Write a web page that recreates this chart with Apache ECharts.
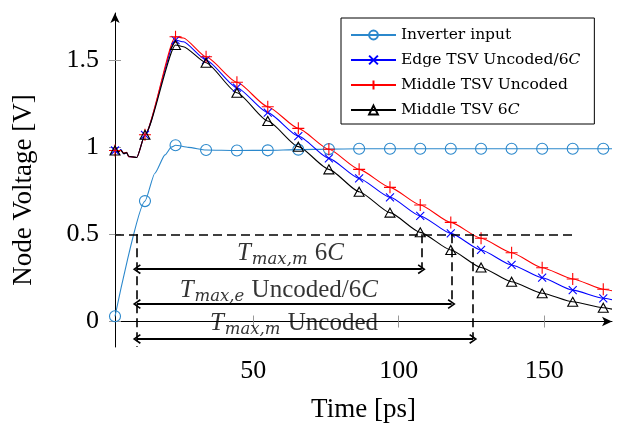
<!DOCTYPE html>
<html lang="en">
<head>
<meta charset="UTF-8">
<title>Node Voltage</title>
<script src="https://cdn.jsdelivr.net/npm/echarts@6/dist/echarts.min.js"></script>
<style>
    html, body { margin: 0; padding: 0; background: #fff; }
    #main { width: 619px; height: 423px; }
</style>
</head>
<body>
<div id="main"></div>
<script>
    // times (ps) where the markers sit
    var markT = [2.5, 12.8, 23.3, 33.8, 44.4, 55.0, 65.5, 76.0, 86.4, 97.0, 107.4, 117.9, 128.3, 138.8, 149.3, 159.8, 170.3];
    var inverterV = [0.03, 0.69, 1.01, 0.983, 0.98, 0.981, 0.985, 0.988, 0.99, 0.99, 0.99, 0.99, 0.99, 0.99, 0.99, 0.99, 0.99];
    var edgeV     = [0.98, 1.07, 1.613, 1.499, 1.340, 1.197, 1.063, 0.935, 0.820, 0.712, 0.605, 0.505, 0.410, 0.324, 0.251, 0.180, 0.133];
    var midUncV   = [0.98, 1.07, 1.632, 1.517, 1.371, 1.231, 1.107, 0.987, 0.872, 0.769, 0.668, 0.568, 0.477, 0.394, 0.308, 0.244, 0.185];
    var mid6cV    = [0.98, 1.07, 1.585, 1.483, 1.311, 1.149, 1.002, 0.872, 0.744, 0.624, 0.511, 0.410, 0.310, 0.228, 0.162, 0.113, 0.079];

    // curve points between markers (no marker drawn)
    var inverterExtraT = [16.2, 19.7, 21.9, 27.7, 173.3];
    var inverterExtraV = [0.85, 0.955, 1.0, 0.998, 0.99];
    var tsvExtraT    = [3.5, 4.5, 5.5, 6.5, 7.2, 10.0, 26.0, 173.3];
    var edgeExtraV   = [0.972, 0.985, 0.962, 0.968, 0.945, 0.94, 1.603, 0.125];
    var midUncExtraV = [0.975, 0.980, 0.965, 0.970, 0.945, 0.94, 1.625, 0.176];
    var mid6cExtraV  = [0.972, 0.982, 0.962, 0.968, 0.947, 0.94, 1.575, 0.071];

    var xTicks = [50, 100, 150];
    var yTicks = [0, 0.5, 1, 1.5];

    // 0.5 V crossing annotation
    var threshold = 0.5;
    var crossT = [10, 107.9, 118.2, 125.6];
    var arrowV = [0.3, 0.1, -0.1];
    var dashEndT = 160;
    var annoLabels = ['{i|T}{s|max,m} 6{i|C}', '{i|T}{s|max,e} Uncoded/6{i|C}', '{i|T}{s|max,m} Uncoded'];
    var annoT = [62.8, 58.8, 64.0];
    var annoV = [0.39, 0.18, -0.01];

    var names = ['Inverter input', 'Edge TSV Uncoded/6C', 'Middle TSV Uncoded', 'Middle TSV 6C'];

    var xMin = 2.5, xMax = 173.3, yMin = -0.146, yMax = 1.768;
    var serif = 'Liberation Serif';
    var chevron = 'path://M5,0L10,8.5L8.6,9.6L5,3.2L1.4,9.6L0,8.5Z';

    function buildData(mt, mv, et, ev) {
        var pts = [];
        for (var i = 0; i < mt.length; i++) pts.push({value: [mt[i], mv[i]]});
        for (var j = 0; j < et.length; j++) pts.push({value: [et[j], ev[j]], symbol: 'none'});
        pts.sort(function (a, b) { return a.value[0] - b.value[0]; });
        return pts;
    }

    function curve(name, color, data, symbol, size) {
        return {
            name: name,
            type: 'line',
            color: color,
            data: data,
            symbol: symbol,
            symbolSize: size,
            smooth: 0.2,
            smoothMonotone: 'x',
            lineStyle: {color: color, width: 1.1},
            itemStyle: {color: 'transparent', borderColor: color, borderWidth: 1.1}
        };
    }

    var dashData = [
        [{coord: [xMin, threshold]}, {coord: [dashEndT, threshold]}],
        [{coord: [crossT[0], threshold]}, {coord: [crossT[0], yMin]}]
    ];
    var arrowData = [];
    for (var k = 0; k < arrowV.length; k++) {
        dashData.push([{coord: [crossT[k + 1], threshold]}, {coord: [crossT[k + 1], arrowV[k]]}]);
        arrowData.push([{coord: [crossT[0], arrowV[k]]}, {coord: [crossT[k + 1], arrowV[k]]}]);
    }

    var myChart = echarts.init(document.getElementById('main'));

    var option = {
        animation: false,
        grid: {left: 115, right: 7, top: 13, bottom: 76, outerBoundsMode: 'none'},
        legend: {
            data: names,
            orient: 'vertical',
            left: 341,
            top: 18,
            itemWidth: 45,
            itemHeight: 11,
            itemGap: 9,
            padding: [9, 14, 6, 9],
            borderColor: '#000',
            borderWidth: 1,
            formatter: function (n) {
                var m = n.match(/^(.*6)C$/);
                return m ? '{n|' + m[1] + '}{i|C}' : '{n|' + n + '}';
            },
            textStyle: {
                fontFamily: 'DejaVu Serif', fontSize: 15.5, color: '#000', lineHeight: 15,
                rich: {
                    n: {fontFamily: 'DejaVu Serif', fontSize: 15.5, lineHeight: 15, height: 15},
                    i: {fontFamily: 'DejaVu Serif', fontSize: 15.5, fontStyle: 'italic', lineHeight: 15, height: 15}
                }
            }
        },
        xAxis: [{
            type: 'value', min: xMin, max: xMax,
            name: 'Time [ps]', nameLocation: 'middle', nameGap: 49,
            nameTextStyle: {fontFamily: serif, fontSize: 27, color: '#000'},
            axisLine: {lineStyle: {color: '#000', width: 1}, symbol: ['none', 'arrow'], symbolSize: [7, 10]},
            axisTick: {customValues: xTicks, length: 6, lineStyle: {color: '#999'}},
            axisLabel: {customValues: xTicks, margin: 11, fontFamily: serif, fontSize: 26, color: '#000'},
            splitLine: {show: false}
        }, {
            type: 'value', min: xMin, max: xMax, position: 'bottom',
            axisLine: {show: false},
            axisTick: {customValues: xTicks, inside: true, length: 6, lineStyle: {color: '#999'}},
            axisLabel: {show: false},
            splitLine: {show: false}
        }],
        yAxis: [{
            type: 'value', min: yMin, max: yMax,
            name: 'Node Voltage [V]', nameLocation: 'middle', nameGap: 78,
            nameTextStyle: {fontFamily: serif, fontSize: 27, color: '#000', padding: [0, 20, 0, 0]},
            axisLine: {lineStyle: {color: '#000', width: 1}, symbol: ['none', 'arrow'], symbolSize: [7, 10]},
            axisTick: {customValues: yTicks, length: 6, lineStyle: {color: '#999'}},
            axisLabel: {customValues: yTicks, margin: 16, fontFamily: serif, fontSize: 26, color: '#000'},
            splitLine: {show: false}
        }, {
            type: 'value', min: yMin, max: yMax, position: 'left',
            axisLine: {show: false},
            axisTick: {customValues: yTicks, inside: true, length: 6, lineStyle: {color: '#999'}},
            axisLabel: {show: false},
            splitLine: {show: false}
        }],
        series: [
            curve(names[0], '#2b88cc', buildData(markT, inverterV, inverterExtraT, inverterExtraV), 'circle', 11),
            curve(names[1], '#0000ff', buildData(markT, edgeV, tsvExtraT, edgeExtraV), 'path://M0,0L10,10M0,10L10,0', 8),
            curve(names[2], '#ff0000', buildData(markT, midUncV, tsvExtraT, midUncExtraV), 'path://M5,0L5,10M0,5L10,5', 12),
            curve(names[3], '#000000', buildData(markT, mid6cV, tsvExtraT, mid6cExtraV), 'triangle', [10, 9]),
            {
                name: 'dashes',
                type: 'line',
                data: [],
                silent: true,
                markLine: {
                    silent: true,
                    symbol: 'none',
                    label: {show: false},
                    lineStyle: {color: '#000', width: 1.6, type: [9, 5]},
                    data: dashData
                }
            },
            {
                name: 'arrows',
                type: 'line',
                data: [],
                silent: true,
                color: '#000',
                markLine: {
                    silent: true,
                    symbol: [chevron, chevron],
                    symbolSize: [10, 8],
                    label: {show: false},
                    itemStyle: {color: '#000'},
                    lineStyle: {color: '#000', width: 1.8, type: 'solid'},
                    data: arrowData
                }
            },
            {
                name: 'anno',
                type: 'scatter',
                silent: true,
                symbolSize: 1,
                itemStyle: {color: 'transparent'},
                data: annoT.map(function (t, i) { return [t, annoV[i]]; }),
                label: {
                    show: true,
                    position: 'inside',
                    formatter: function (p) { return annoLabels[p.dataIndex]; },
                    fontFamily: serif, fontSize: 25, color: '#000', lineHeight: 30,
                    rich: {
                        i: {fontFamily: serif, fontSize: 25, fontStyle: 'italic', lineHeight: 30},
                        s: {fontFamily: 'DejaVu Serif', fontSize: 16.5, fontStyle: 'italic', lineHeight: 17, verticalAlign: 'bottom', padding: [0, 1, 0, 1]}
                    }
                }
            }
        ]
    };
    myChart.setOption(option);
</script>
</body>
</html>
